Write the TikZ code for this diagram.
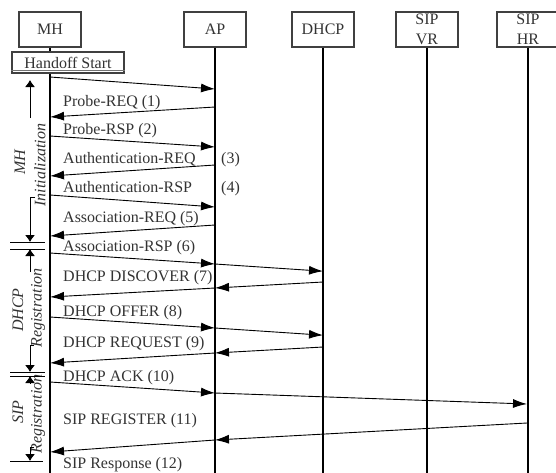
\documentclass[tikz,border=0pt]{standalone}
\usepackage{fontspec}
\setmainfont{Liberation Serif}
\usetikzlibrary{arrows.meta}
\begin{document}
\begin{tikzpicture}[x=1pt,y=-1pt,
  actor/.style={draw=black!75, line width=1.3pt, minimum width=62pt, minimum height=35pt,
    inner sep=0pt, fill=white, font=\fontsize{16}{20}\selectfont, text=black!80, align=center},
  life/.style={line width=1.8pt},
  msg/.style={line width=0.9pt, -{Latex[length=14pt,width=9pt]}},
  lbl/.style={anchor=west, inner sep=0pt, text height=11pt, text depth=0pt,
    font=\fontsize{16}{19}\selectfont, text=black!80},
  phase/.style={rotate=90, inner sep=0pt, font=\fontsize{16}{19}\selectfont\itshape, text=black!80},
  dimarrow/.style={line width=0.9pt, -{Latex[length=7pt,width=10pt]}},
  sepline/.style={line width=0.9pt}
]
\useasboundingbox (0,0) rectangle (556,472);

% entities
\node[actor] (mh)   at (50,29.5)  {MH};
\node[actor] (ap)   at (215,29.5) {AP};
\node[actor] (dhcp) at (323,29.5) {DHCP};
\node[actor] (vr)   at (427,29.5) {SIP\\VR};
\node[actor] (hr)   at (528,29.5) {SIP\\HR};

% lifelines
\draw[life] (mh.south)   -- ++(0,430);
\draw[life] (ap.south)   -- ++(0,430);
\draw[life] (dhcp.south) -- ++(0,430);
\draw[life] (vr.south)   -- ++(0,430);
\draw[life] (hr.south)   -- ++(0,430);

% handoff start box with its bottom shadow
\node[draw=black!75, line width=1.2pt, fill=white, minimum width=112pt, minimum height=21pt,
  inner sep=0pt, font=\fontsize{16}{19}\selectfont, text=black!80] (hs) at (68,62.5) {Handoff Start};
\draw[black!55, line width=1.5pt] ([yshift=3pt]hs.south west) -- ([yshift=3pt]hs.south east);

% message end points on the lifelines
\coordinate (a1) at (50,77);   \coordinate (b1) at (215,89);
\coordinate (a2) at (215,107); \coordinate (b2) at (50,117);
\coordinate (a3) at (50,136);  \coordinate (b3) at (215,147);
\coordinate (a4) at (215,165); \coordinate (b4) at (50,176);
\coordinate (a5) at (50,195);  \coordinate (b5) at (215,207);
\coordinate (a6) at (215,225); \coordinate (b6) at (50,236);
\coordinate (a7) at (50,253);  \coordinate (b7) at (215,264); \coordinate (c7) at (323,271.2);
\coordinate (a8) at (323,282); \coordinate (b8) at (215,288); \coordinate (c8) at (50,297);
\coordinate (a9) at (50,317);  \coordinate (b9) at (215,328); \coordinate (c9) at (323,335.2);
\coordinate (a10) at (323,347); \coordinate (b10) at (215,353); \coordinate (c10) at (50,363);
\coordinate (a11) at (50,382);  \coordinate (b11) at (215,393); \coordinate (c11) at (527,404);
\coordinate (a12) at (527,423); \coordinate (b12) at (215,440); \coordinate (c12) at (50,452);

% messages
\draw[msg] (a1) -- (b1);
\draw[msg] (a2) -- (b2);
\draw[msg] (a3) -- (b3);
\draw[msg] (a4) -- (b4);
\draw[msg] (a5) -- (b5);
\draw[msg] (a6) -- (b6);
\draw[msg] (a7) -- (b7); \draw[msg] (b7) -- (c7);
\draw[msg] (a8) -- (b8); \draw[msg] (b8) -- (c8);
\draw[msg] (a9) -- (b9); \draw[msg] (b9) -- (c9);
\draw[msg] (a10) -- (b10); \draw[msg] (b10) -- (c10);
\draw[msg] (a11) -- (b11); \draw[msg] (b11) -- (c11);
\draw[msg] (a12) -- (b12); \draw[msg] (b12) -- (c12);

% message labels
\node[lbl] (l1)  at (63,101) {Probe-REQ (1)};
\node[lbl] (l2)  at (63,129) {Probe-RSP (2)};
\node[lbl] (l3)  at (63,158) {Authentication-REQ};
\node[lbl] (n3)  at (221,158) {(3)};
\node[lbl] (l4)  at (63,187) {Authentication-RSP};
\node[lbl] (n4)  at (221,187) {(4)};
\node[lbl] (l5)  at (63,217) {Association-REQ (5)};
\node[lbl] (l6)  at (63,246) {Association-RSP (6)};
\node[lbl] (l7)  at (63,276) {DHCP DISCOVER (7)};
\node[lbl] (l8)  at (63,311) {DHCP OFFER (8)};
\node[lbl] (l9)  at (63,342) {DHCP REQUEST (9)};
\node[lbl] (l10) at (63,376) {DHCP ACK (10)};
\node[lbl] (l11) at (63,419) {SIP REGISTER (11)};
\node[lbl] (l12) at (63,463) {SIP Response (12)};

% phase markers on the left
\node[phase] (p1a) at (20,162) {MH};
\node[phase] (p1b) at (40,165) {Initialization};
\node[phase] (p2a) at (18,310) {DHCP};
\node[phase] (p2b) at (38,308) {Registration};
\node[phase] (p3a) at (18,412) {SIP};
\node[phase] (p3b) at (38,414) {Registration};

\coordinate (u1) at (30,118); \coordinate (t1) at (30,80);
\coordinate (h1) at (35,197); \coordinate (k1) at (30,197); \coordinate (d1) at (30,242);
\coordinate (u2) at (30,272); \coordinate (t2) at (30,249);
\coordinate (h2) at (34,345); \coordinate (k2) at (30,345); \coordinate (d2) at (30,372);
\coordinate (u3) at (30,383); \coordinate (t3) at (30,376);
\coordinate (h3) at (34,447); \coordinate (k3) at (30,447); \coordinate (d3) at (30,461);

\draw[dimarrow] (u1) -- (t1);
\draw[dimarrow] (h1) -- (k1) -- (d1);
\draw[dimarrow] (u2) -- (t2);
\draw[dimarrow] (h2) -- (k2) -- (d2);
\draw[dimarrow] (u3) -- (t3);
\draw[dimarrow] (h3) -- (k3) -- (d3);

% phase boundaries
\coordinate (s1l) at (10,242); \coordinate (s1r) at (45,242);
\coordinate (s2l) at (10,249); \coordinate (s2r) at (45,249);
\coordinate (s3l) at (10,372); \coordinate (s3r) at (45,372);
\coordinate (s4l) at (10,376); \coordinate (s4r) at (45,376);
\coordinate (s5l) at (10,461); \coordinate (s5r) at (43,461);
\draw[sepline] (s1l) -- (s1r);
\draw[sepline] (s2l) -- (s2r);
\draw[sepline] (s3l) -- (s3r);
\draw[sepline] (s4l) -- (s4r);
\draw[sepline] (s5l) -- (s5r);
\end{tikzpicture}
\end{document}
